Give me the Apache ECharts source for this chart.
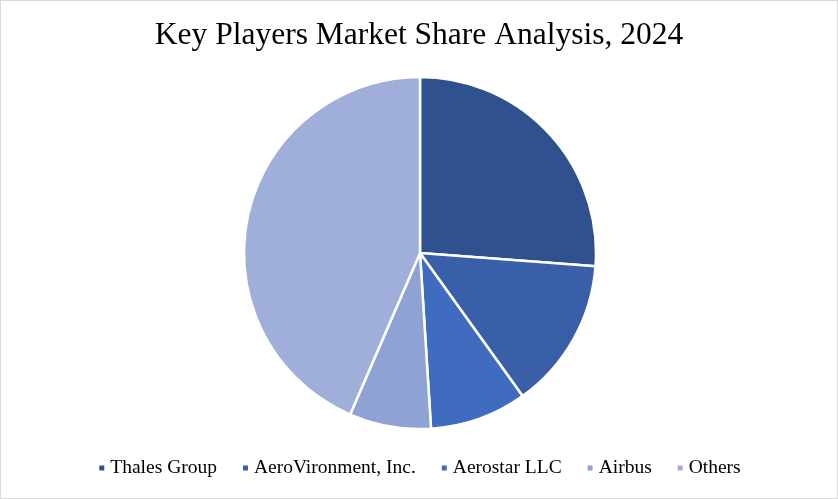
<!DOCTYPE html>
<html>
<head>
<meta charset="utf-8">
<script src="https://cdn.jsdelivr.net/npm/echarts@6/dist/echarts.min.js"></script>
<style>
  html, body { margin: 0; padding: 0; background: #fff; }
  #main { width: 836px; height: 497px; border: 1px solid #d9d9d9; }
</style>
</head>
<body>
<div id="main"></div>
<script>
  var players = ['Thales Group', 'AeroVironment, Inc.', 'Aerostar LLC', 'Airbus', 'Others'];
  var shares = [26.2, 13.9, 8.9, 7.5, 43.5];
  var colores = ['#2F528F', '#3A5FA9', '#3F6CBF', '#8FA2D4', '#A0AFD9'];

  var myChart = echarts.init(document.getElementById('main'));

  var datos = [];
  for (let i = 0; i < players.length; i++) {
    datos.push({ value: shares[i], name: players[i], itemStyle: { color: colores[i] } });
  }

  var option = {
    title: {
      text: 'Key Players Market Share Analysis, 2024',
      left: 'center',
      top: 14,
      textStyle: { fontFamily: 'Liberation Serif', fontSize: 31.5, fontWeight: 'normal', color: '#000' }
    },
    legend: {
      bottom: 15,
      left: 'center',
      icon: 'rect',
      itemWidth: 7,
      itemHeight: 7,
      itemGap: 24,
      textStyle: { fontFamily: 'Liberation Serif', fontSize: 19.5, color: '#000' }
    },
    series: [
      {
        type: 'pie',
        center: [419, 252],
        radius: 176,
        startAngle: 90,
        clockwise: true,
        label: { show: false },
        labelLine: { show: false },
        itemStyle: { borderColor: '#fff', borderWidth: 2.5 },
        data: datos
      }
    ]
  };
  myChart.setOption(option);
</script>
</body>
</html>
